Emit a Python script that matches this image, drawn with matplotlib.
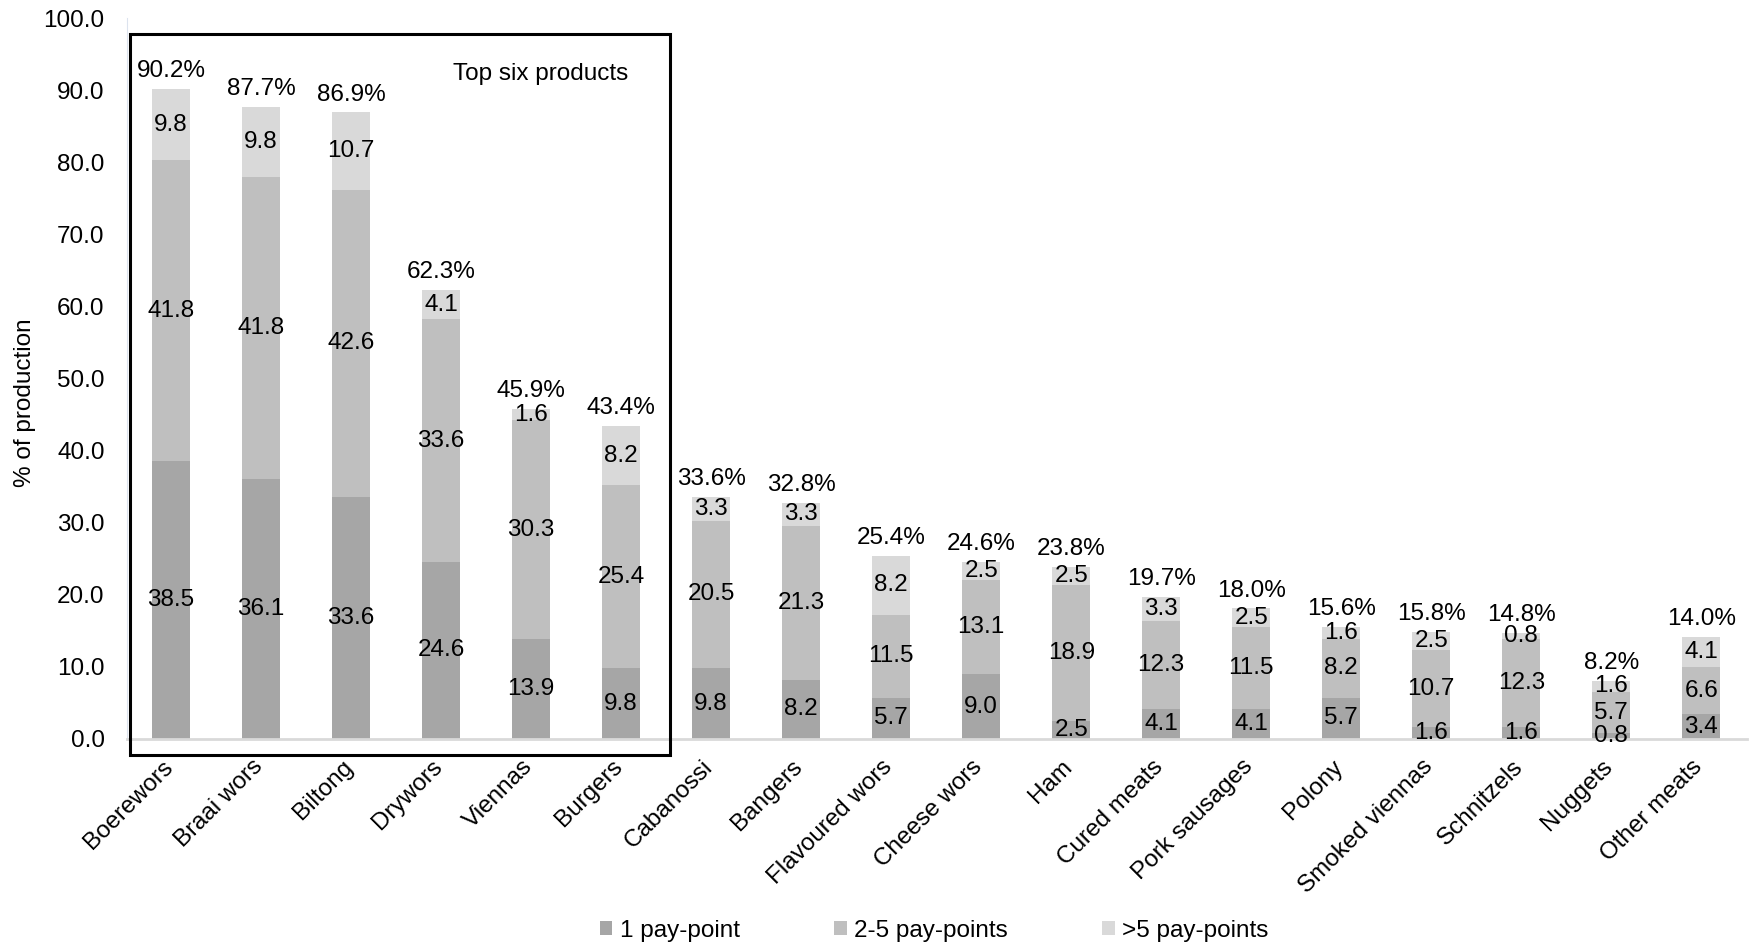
import matplotlib.pyplot as plt
from matplotlib.patches import Rectangle
from matplotlib.transforms import ScaledTranslation
import numpy as np

plt.rcParams['font.family'] = ['Liberation Sans', 'DejaVu Sans']

products = ['Boerewors', 'Braai wors', 'Biltong', 'Drywors', 'Viennas', 'Burgers',
            'Cabanossi', 'Bangers', 'Flavoured wors', 'Cheese wors', 'Ham',
            'Cured meats', 'Pork sausages', 'Polony', 'Smoked viennas',
            'Schnitzels', 'Nuggets', 'Other meats']
one_pp = [38.5, 36.1, 33.6, 24.6, 13.9, 9.8, 9.8, 8.2, 5.7, 9.0, 2.5,
          4.1, 4.1, 5.7, 1.6, 1.6, 0.8, 3.4]
two_five_pp = [41.8, 41.8, 42.6, 33.6, 30.3, 25.4, 20.5, 21.3, 11.5, 13.1, 18.9,
               12.3, 11.5, 8.2, 10.7, 12.3, 5.7, 6.6]
over_five_pp = [9.8, 9.8, 10.7, 4.1, 1.6, 8.2, 3.3, 3.3, 8.2, 2.5, 2.5,
                3.3, 2.5, 1.6, 2.5, 0.8, 1.6, 4.1]
totals = [90.2, 87.7, 86.9, 62.3, 45.9, 43.4, 33.6, 32.8, 25.4, 24.6, 23.8,
          19.7, 18.0, 15.6, 15.8, 14.8, 8.2, 14.0]

series = [('1 pay-point', one_pp, '#A6A6A6'),
          ('2-5 pay-points', two_five_pp, '#BFBFBF'),
          ('>5 pay-points', over_five_pp, '#D9D9D9')]

fs = 17.5
fig = plt.figure(figsize=(17.56, 9.49), dpi=100)
ax = fig.add_axes([0.0723, 0.2213, 0.9227, 0.7597])

x = np.arange(len(products))
bottom = np.zeros(len(products))
for name, vals, col in series:
    vals = np.array(vals)
    ax.bar(x, vals, 0.42, bottom=bottom, color=col, label=name, zorder=2)
    for xi, b, v in zip(x, bottom, vals):
        ax.text(xi, b + v / 2, f'{v:.1f}', ha='center', va='center', fontsize=fs, zorder=3)
    bottom = bottom + vals

for xi, top, tot in zip(x, bottom, totals):
    ax.annotate(f'{tot:.1f}%', (xi, top), xytext=(0, 5), textcoords='offset points',
                ha='center', va='bottom', fontsize=fs)

ax.set_xlim(-0.49, 17.51)
ax.set_ylim(0, 100)
ax.set_yticks(np.arange(0, 101, 10))
ax.set_yticklabels([f'{v:.1f}' for v in np.arange(0, 101, 10)], fontsize=fs)
ax.set_xticks(x)
ax.set_xticklabels(products, rotation=45, ha='right', va='top',
                   rotation_mode='anchor', fontsize=fs)
ax.tick_params(axis='both', length=0)
ax.tick_params(axis='y', pad=16)
ax.tick_params(axis='x', pad=12)
# nudge the slanted labels a little to the left, like the original
shift = ScaledTranslation(-7 / 72, 0, fig.dpi_scale_trans)
for lbl in ax.get_xticklabels():
    lbl.set_transform(lbl.get_transform() + shift)
ax.set_ylabel('% of production', fontsize=fs)
ax.yaxis.set_label_coords(-0.056, 0.466)

for s in ['top', 'right']:
    ax.spines[s].set_visible(False)
ax.spines['left'].set_color('#DCE3EE')
ax.spines['left'].set_linewidth(0.8)
ax.spines['bottom'].set_color('#D9D9D9')
ax.spines['bottom'].set_linewidth(2)

# box around the top six products
ax.add_patch(Rectangle((-0.46, -2.2), 6.0, 100.0, fill=False, edgecolor='black',
                       linewidth=2.2, clip_on=False, zorder=4))
ax.text(4.1, 92.2, 'Top six products', ha='center', va='center', fontsize=fs)

fig.legend(loc='center', bbox_to_anchor=(0.532, 0.019), ncol=3, frameon=False,
           fontsize=fs, handlelength=0.5, handleheight=0.5, handletextpad=0.3,
           columnspacing=3.9)

fig.savefig('out.png', dpi=100)
